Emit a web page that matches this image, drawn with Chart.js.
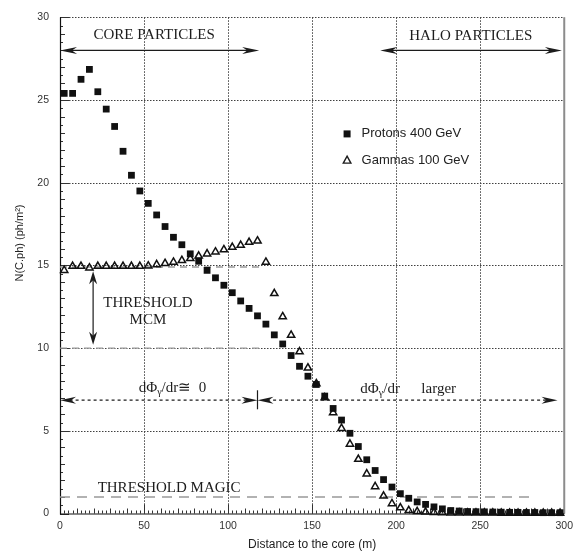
<!DOCTYPE html>
<html>
<head>
<meta charset="utf-8">
<script src="https://cdn.jsdelivr.net/npm/chart.js@4/dist/chart.umd.min.js"></script>
<style>
  html, body { margin: 0; padding: 0; background: #fff; }
  #wrap { width: 579px; height: 556px; }
</style>
</head>
<body>
<div id="wrap"><canvas id="c" width="579" height="556"></canvas></div>
<script>
// Radial bins (m), bin centres every 5 m
const distances = [
  2.5, 7.5, 12.5, 17.5, 22.5, 27.5, 32.5, 37.5, 42.5, 47.5,
  52.5, 57.5, 62.5, 67.5, 72.5, 77.5, 82.5, 87.5, 92.5, 97.5,
  102.5, 107.5, 112.5, 117.5, 122.5, 127.5, 132.5, 137.5, 142.5, 147.5,
  152.5, 157.5, 162.5, 167.5, 172.5, 177.5, 182.5, 187.5, 192.5, 197.5,
  202.5, 207.5, 212.5, 217.5, 222.5, 227.5, 232.5, 237.5, 242.5, 247.5,
  252.5, 257.5, 262.5, 267.5, 272.5, 277.5, 282.5, 287.5, 292.5, 297.5
];

// Cherenkov photon density (ph/m^2), protons 400 GeV
const protons = [
  25.4, 25.4, 26.25, 26.85, 25.5, 24.45, 23.4, 21.9, 20.45, 19.5,
  18.75, 18.05, 17.35, 16.7, 16.25, 15.7, 15.25, 14.7, 14.25, 13.8,
  13.35, 12.85, 12.4, 11.95, 11.45, 10.8, 10.25, 9.55, 8.9, 8.3,
  7.8, 7.1, 6.35, 5.65, 4.85, 4.05, 3.25, 2.6, 2.05, 1.6,
  1.2, 0.92, 0.7, 0.55, 0.4, 0.28, 0.18, 0.15, 0.12, 0.11,
  0.1, 0.09, 0.08, 0.07, 0.07, 0.06, 0.06, 0.05, 0.05, 0.05
];

// Cherenkov photon density (ph/m^2), gammas 100 GeV
const gammas = [
  14.7, 14.95, 14.95, 14.85, 14.95, 14.95, 14.95, 14.95, 14.95, 14.95,
  14.97, 15.05, 15.12, 15.2, 15.3, 15.42, 15.57, 15.7, 15.82, 15.95,
  16.1, 16.22, 16.4, 16.48, 15.2, 13.3, 11.9, 10.78, 9.78, 8.8,
  7.85, 7.0, 6.1, 5.15, 4.2, 3.28, 2.4, 1.63, 1.06, 0.6,
  0.35, 0.18, 0.12, 0.09, 0.07, 0.05, 0.04, 0.04, 0.03, 0.03,
  0.03, 0.03, 0.02, 0.02, 0.02, 0.02, 0.02, 0.02, 0.02, 0.02
];

const xTicks = [0, 50, 100, 150, 200, 250, 300];
const yTicks = [0, 5, 10, 15, 20, 25, 30];

// Trigger thresholds (ph/m^2) and the distance range they are drawn over (m)
const mcmUpper = 14.9;
const mcmLower = 10;
const mcmRangeEnd = 121;
const magicLevel = 1.0;
const magicRangeEnd = 280;

const ink = '#1c1c1c';
const sans = "'Liberation Sans', Arial, sans-serif";
const serif = "'Liberation Serif', 'Times New Roman', serif";

function head(ctx, tx, ty, dx, dy, len, hw) {
  const bx = tx - dx * len, by = ty - dy * len;
  const nx = -dy, ny = dx;
  const notch = 0.3 * len;
  ctx.beginPath();
  ctx.moveTo(tx, ty);
  ctx.lineTo(bx + nx * hw, by + ny * hw);
  ctx.lineTo(bx + dx * notch, by + dy * notch);
  ctx.lineTo(bx - nx * hw, by - ny * hw);
  ctx.closePath();
  ctx.fill();
}

function doubleArrow(ctx, x1, y1, x2, y2, len, hw, dash, lw) {
  const L = Math.hypot(x2 - x1, y2 - y1);
  const dx = (x2 - x1) / L, dy = (y2 - y1) / L;
  ctx.save();
  ctx.lineWidth = lw;
  ctx.setLineDash(dash || []);
  ctx.beginPath();
  ctx.moveTo(x1 + dx * len * 0.6, y1 + dy * len * 0.6);
  ctx.lineTo(x2 - dx * len * 0.6, y2 - dy * len * 0.6);
  ctx.stroke();
  ctx.setLineDash([]);
  head(ctx, x2, y2, dx, dy, len, hw);
  head(ctx, x1, y1, -dx, -dy, len, hw);
  ctx.restore();
}

// dotted grid at the labelled ticks, inward minor ticks and the frame
const frame = {
  id: 'frame',
  beforeDatasetsDraw(chart) {
    const { ctx, chartArea: { left, right, top, bottom }, scales: { x, y } } = chart;
    ctx.save();
    ctx.strokeStyle = '#404040';
    ctx.lineWidth = 1;
    ctx.setLineDash([1.5, 1.5]);
    xTicks.forEach(v => {
      if (v <= 0 || v >= 300) return;
      const px = Math.round(x.getPixelForValue(v)) + 0.5;
      ctx.beginPath(); ctx.moveTo(px, top); ctx.lineTo(px, bottom); ctx.stroke();
    });
    yTicks.forEach(v => {
      if (v <= 0) return;
      const py = Math.round(y.getPixelForValue(v)) + 0.5;
      ctx.beginPath(); ctx.moveTo(left, py); ctx.lineTo(right, py); ctx.stroke();
    });
    ctx.setLineDash([]);

    // minor ticks along the bottom axis
    ctx.strokeStyle = '#333';
    for (let v = 0; v <= 300; v += 2.5) {
      const px = Math.round(x.getPixelForValue(v)) + 0.5;
      const len = v % 50 === 0 ? 9 : (v % 10 === 0 ? 5 : 3);
      ctx.beginPath(); ctx.moveTo(px, bottom); ctx.lineTo(px, bottom - len); ctx.stroke();
    }
    // minor ticks along the left axis
    for (let v = 0; v <= 30; v += 0.5) {
      const py = Math.round(y.getPixelForValue(v)) + 0.5;
      const len = v % 5 === 0 ? 9 : (v % 1 === 0 ? 5 : 3);
      ctx.beginPath(); ctx.moveTo(left, py); ctx.lineTo(left + len, py); ctx.stroke();
    }

    // frame
    ctx.strokeStyle = '#8c8c8c';
    ctx.lineWidth = 2;
    ctx.beginPath(); ctx.moveTo(right, top); ctx.lineTo(right, bottom); ctx.stroke();
    ctx.strokeStyle = '#111';
    ctx.lineWidth = 1.2;
    ctx.beginPath();
    ctx.moveTo(left + 0.5, top); ctx.lineTo(left + 0.5, bottom + 0.5); ctx.lineTo(right, bottom + 0.5);
    ctx.stroke();
    ctx.restore();
  }
};

// region labels, threshold captions, arrows, legend and the y title
const notes = {
  id: 'notes',
  afterDatasetsDraw(chart) {
    const { ctx, scales: { x, y } } = chart;
    const X = v => x.getPixelForValue(v);
    const Y = v => y.getPixelForValue(v);
    ctx.save();
    ctx.fillStyle = ink;
    ctx.strokeStyle = ink;

    // core / halo regions
    doubleArrow(ctx, X(0), Y(28), X(118.5), Y(28), 17, 3.5, null, 1.2);
    doubleArrow(ctx, X(190.5), Y(28), X(298.6), Y(28), 17, 3.5, null, 1.2);
    ctx.font = `15px ${serif}`;
    ctx.textAlign = 'center';
    ctx.textBaseline = 'middle';
    ctx.fillText('CORE PARTICLES', X(56), Y(28.9));
    ctx.fillText('HALO PARTICLES', X(244.4), Y(28.85));

    // MCM threshold band
    doubleArrow(ctx, X(19.7), Y(14.65), X(19.7), Y(10.2), 13, 4, null, 1.2);
    ctx.fillText('THRESHOLD', X(52.3), Y(12.73));
    ctx.fillText('MCM', X(52.3), Y(11.68));

    // MAGIC threshold caption
    ctx.fillText('THRESHOLD MAGIC', X(64.9), Y(1.55));

    // gradient regions
    const yr = Y(6.85);
    doubleArrow(ctx, X(0), yr, X(117.5), yr, 16, 3.5, [3, 3], 1.2);
    doubleArrow(ctx, X(117.5), yr, X(296), yr, 16, 3.5, [3, 3], 1.2);
    ctx.lineWidth = 1.2;
    ctx.beginPath();
    ctx.moveTo(X(117.5), Y(7.45)); ctx.lineTo(X(117.5), Y(6.3));
    ctx.stroke();

    function fluxLabel(x0, yv, tail) {
      ctx.textAlign = 'left';
      let px = X(x0);
      const py = Y(yv);
      ctx.font = `15px ${serif}`;
      ctx.fillText('dΦ', px, py);
      px += ctx.measureText('dΦ').width;
      ctx.font = `10px ${serif}`;
      ctx.fillText('γ', px, py + 4);
      px += ctx.measureText('γ').width;
      ctx.font = `15px ${serif}`;
      ctx.fillText(tail, px, py);
    }
    fluxLabel(46.8, 7.57, '/dr\u2245  0');
    fluxLabel(178.7, 7.5, '/dr');
    ctx.font = `15px ${serif}`;
    ctx.textAlign = 'left';
    ctx.fillText('larger', X(215), Y(7.5));

    // legend
    const lx = X(170.8);
    ctx.fillStyle = '#111';
    ctx.fillRect(lx - 3.5, Y(22.95) - 3.5, 7, 7);
    ctx.lineWidth = 1.4;
    const ty = Y(21.35);
    ctx.beginPath();
    ctx.moveTo(lx, ty - 4.2); ctx.lineTo(lx + 3.8, ty + 2.8); ctx.lineTo(lx - 3.8, ty + 2.8);
    ctx.closePath(); ctx.stroke();
    ctx.fillStyle = '#222';
    ctx.font = `13px ${sans}`;
    ctx.textAlign = 'left';
    ctx.fillText('Protons 400 GeV', X(179.4), Y(22.95));
    ctx.fillText('Gammas 100 GeV', X(179.4), Y(21.35));

    // y axis title
    ctx.save();
    ctx.translate(20, 243);
    ctx.rotate(-Math.PI / 2);
    ctx.font = `11px ${sans}`;
    ctx.textAlign = 'center';
    ctx.fillStyle = '#222';
    ctx.fillText('N(C.ph) (ph/m\u00B2)', 0, 0);
    ctx.restore();

    ctx.restore();
  }
};

const pts = vals => distances.map((d, i) => ({ x: d, y: vals[i] }));

new Chart(document.getElementById('c'), {
  type: 'scatter',
  data: {
    datasets: [
      {
        label: 'Protons 400 GeV',
        data: pts(protons),
        pointStyle: 'rect',
        pointRadius: 4.8,
        backgroundColor: '#111',
        borderColor: '#111',
        borderWidth: 0,
        clip: false,
        order: 0
      },
      {
        label: 'Gammas 100 GeV',
        data: pts(gammas),
        pointStyle: 'triangle',
        pointRadius: 4.2,
        backgroundColor: 'rgba(255,255,255,0)',
        borderColor: '#111',
        borderWidth: 1.5,
        clip: false,
        order: 0
      },
      {
        type: 'line',
        label: 'MCM upper',
        data: [{ x: 0, y: mcmUpper }, { x: mcmRangeEnd, y: mcmUpper }],
        borderColor: '#999',
        borderDash: [7, 5],
        borderWidth: 1.4,
        pointRadius: 0,
        order: 2
      },
      {
        type: 'line',
        label: 'MCM lower',
        data: [{ x: 0, y: mcmLower }, { x: mcmRangeEnd, y: mcmLower }],
        borderColor: '#999',
        borderDash: [7, 5],
        borderWidth: 1.4,
        pointRadius: 0,
        order: 2
      },
      {
        type: 'line',
        label: 'MAGIC',
        data: [{ x: 0, y: magicLevel }, { x: magicRangeEnd, y: magicLevel }],
        borderColor: '#999',
        borderDash: [10, 7],
        borderWidth: 1.5,
        pointRadius: 0,
        order: 2
      }
    ]
  },
  options: {
    responsive: false,
    animation: false,
    layout: { padding: { top: 8, right: 13, left: 0, bottom: 0 } },
    plugins: { legend: { display: false }, tooltip: { enabled: false } },
    scales: {
      x: {
        type: 'linear',
        min: 0,
        max: 300,
        afterBuildTicks: s => { s.ticks = xTicks.map(v => ({ value: v })); },
        afterFit: s => { s.height = 42.5; },
        grid: { display: false, drawTicks: false },
        border: { display: false },
        ticks: { color: '#333', font: { family: sans, size: 10.5 }, padding: 6, maxRotation: 0 },
        title: {
          display: true,
          text: 'Distance to the core (m)',
          color: '#222',
          font: { family: sans, size: 12 },
          padding: { top: 0, bottom: 4 }
        }
      },
      y: {
        type: 'linear',
        min: 0,
        max: 30,
        afterBuildTicks: s => { s.ticks = yTicks.map(v => ({ value: v })); },
        afterFit: s => { s.width = 60; },
        grid: { display: false, drawTicks: false },
        border: { display: false },
        ticks: { color: '#333', font: { family: sans, size: 10.5 }, padding: 11 }
      }
    }
  },
  plugins: [frame, notes]
});
</script>
</body>
</html>
